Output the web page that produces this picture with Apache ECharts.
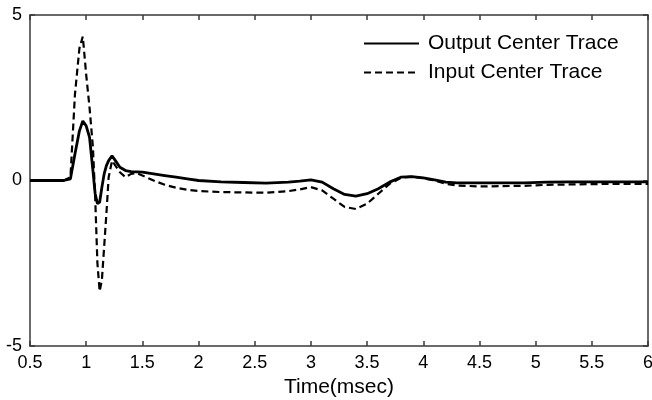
<!DOCTYPE html>
<html>
<head>
<meta charset="utf-8">
<script src="https://cdn.jsdelivr.net/npm/echarts@6/dist/echarts.min.js"></script>
<style>
  html, body { margin: 0; padding: 0; background: #fff; }
  #container { width: 652px; height: 400px; }
</style>
</head>
<body>
<div id="container"></div>
<script>
const times = [
  0.5, 0.6, 0.7, 0.8, 0.86, 0.9, 0.94, 0.97, 1.0, 1.03, 1.06, 1.08, 1.1, 1.12,
  1.14, 1.16, 1.18, 1.2, 1.23, 1.26, 1.3, 1.35, 1.4, 1.45, 1.5, 1.6, 1.7, 1.8,
  1.9, 2.0, 2.2, 2.4, 2.6, 2.8, 2.9, 3.0, 3.1, 3.2, 3.3, 3.4, 3.5, 3.6, 3.7,
  3.8, 3.9, 4.0, 4.1, 4.2, 4.3, 4.5, 4.7, 4.9, 5.1, 5.3, 5.5, 5.7, 5.9, 6.0,
];

const outputTrace = [
  0, 0, 0, 0, 0.05, 0.8, 1.5, 1.8, 1.65, 1.3, 0.3, -0.4, -0.7, -0.65,
  -0.2, 0.2, 0.45, 0.6, 0.75, 0.6, 0.4, 0.3, 0.27, 0.26, 0.25, 0.2, 0.15, 0.1,
  0.05, 0.0, -0.04, -0.06, -0.08, -0.05, -0.02, 0.02, -0.05, -0.25, -0.42, -0.47, -0.4, -0.25, -0.05,
  0.1, 0.12, 0.08, 0.02, -0.05, -0.07, -0.07, -0.07, -0.07, -0.05, -0.04, -0.04, -0.04, -0.04, -0.04,
];

const inputTrace = [
  0, 0, 0, 0, 0.1, 2.6, 4.0, 4.35, 3.2, 2.2, 1.0, -0.5, -2.5, -3.35,
  -3.0, -2.0, -1.0, 0.1, 0.6, 0.45, 0.25, 0.1, 0.2, 0.22, 0.15, 0.0, -0.13, -0.22,
  -0.28, -0.32, -0.35, -0.36, -0.37, -0.32, -0.27, -0.2, -0.3, -0.55, -0.8, -0.86, -0.7, -0.4, -0.1,
  0.08, 0.12, 0.07, 0.0, -0.1, -0.15, -0.18, -0.17, -0.16, -0.13, -0.12, -0.11, -0.1, -0.1, -0.1,
];

const xTicks = [0.5, 6, 0.5]; // min, max, interval
const yTicks = [-5, 5, 5];

const font = "Liberation Sans, Arial, sans-serif";
const axisColor = "#3a3a3a";

const pairs = (vals) => times.map((t, i) => [t, vals[i]]);

const myChart = echarts.init(document.getElementById("container"));

const baseAxis = {
  type: "value",
  axisLine: { show: true, onZero: false, lineStyle: { color: axisColor, width: 1.5 } },
  axisTick: { show: true, inside: true, length: 5, lineStyle: { color: axisColor, width: 1.5 } },
  splitLine: { show: false },
};

const option = {
  backgroundColor: "#ffffff",
  animation: false,
  grid: { left: 30, right: 4, top: 15, bottom: 54, outerBoundsMode: "none" },
  legend: {
    orient: "vertical",
    left: 363,
    top: 33,
    padding: 0,
    itemWidth: 55,
    itemHeight: 14,
    itemGap: 8,
    itemStyle: { opacity: 0 },
    textStyle: { fontFamily: font, fontSize: 21, color: "#000", padding: [0, 0, 0, 4] },
    data: ["Output Center Trace", "Input Center Trace"],
  },
  xAxis: [
    {
      ...baseAxis,
      min: xTicks[0],
      max: xTicks[1],
      interval: xTicks[2],
      name: "Time(msec)",
      nameLocation: "middle",
      nameGap: 30,
      nameTextStyle: { fontFamily: font, fontSize: 21, color: "#000" },
      axisLabel: { fontFamily: font, fontSize: 18, color: "#000", margin: 8 },
    },
    {
      ...baseAxis,
      position: "top",
      min: xTicks[0],
      max: xTicks[1],
      interval: xTicks[2],
      axisLabel: { show: false },
    },
  ],
  yAxis: [
    {
      ...baseAxis,
      min: yTicks[0],
      max: yTicks[1],
      interval: yTicks[2],
      axisLabel: { fontFamily: font, fontSize: 18, color: "#000", margin: 8 },
    },
    {
      ...baseAxis,
      position: "right",
      min: yTicks[0],
      max: yTicks[1],
      interval: yTicks[2],
      axisLabel: { show: false },
    },
  ],
  series: [
    {
      name: "Output Center Trace",
      type: "line",
      symbol: "none",
      data: pairs(outputTrace),
      lineStyle: { color: "#000", width: 2.8 },
      itemStyle: { color: "#000" },
    },
    {
      name: "Input Center Trace",
      type: "line",
      symbol: "none",
      data: pairs(inputTrace),
      lineStyle: { color: "#000", width: 2.2, type: [7, 4] },
      itemStyle: { color: "#000" },
    },
  ],
};

myChart.setOption(option);
</script>
</body>
</html>
